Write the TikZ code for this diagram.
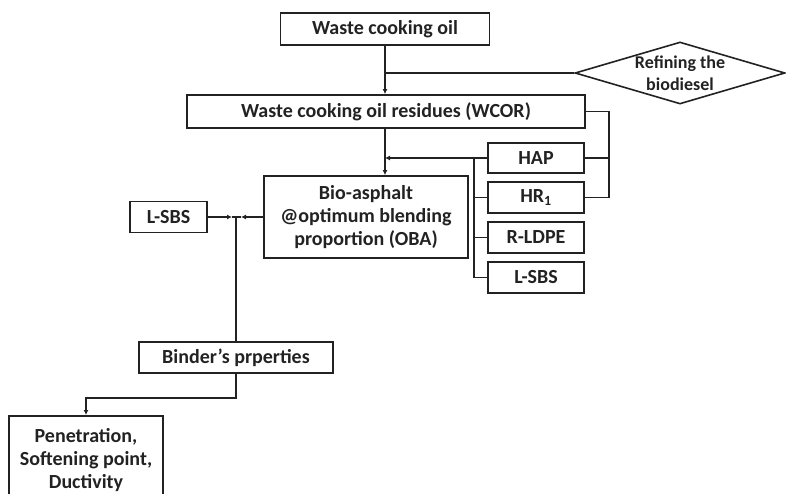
\documentclass[tikz,border=0pt]{standalone}
\usepackage{fontspec}
\setmainfont{Carlito}
\usepackage{tikz}
\usetikzlibrary{arrows.meta, positioning, calc, shapes.geometric}

\definecolor{inkgray}{RGB}{34, 34, 34}

\tikzset{
    flowbox/.style={draw=inkgray, line width=1.8pt, rectangle, inner sep=0pt,
        font=\fontsize{20}{23}\selectfont\bfseries, text=inkgray, align=center},
    decide/.style={draw=inkgray, line width=1.6pt, diamond, aspect=3.4, inner sep=-4pt,
        minimum width=210, minimum height=62,
        font=\fontsize{18}{22}\selectfont\bfseries, text=inkgray, align=center},
    link/.style={draw=inkgray, line width=1.8pt},
    tip/.style={link, -{Latex[length=5pt,width=5pt]}}
}

\begin{document}
\begin{tikzpicture}[x=1pt, y=-1pt]
    \clip (0,0) rectangle (786,494);
    % boxes
    \node[flowbox, minimum width=209, minimum height=32] (wco) at (385,29) {Waste cooking oil};
    \node[flowbox, minimum width=398, minimum height=33] (wcor) at (386,111.5) {Waste cooking oil residues (WCOR)};
    \node[decide] (refine) at (680,73) {Refining the\\biodiesel};
    \node[flowbox, minimum width=204, minimum height=82] (oba) at (366,217) {Bio-asphalt\\@optimum blending\\proportion (OBA)};
    \node[flowbox, minimum width=96, minimum height=30] (hap) at (536,158) {HAP};
    \node[flowbox, minimum width=96, minimum height=31] (hr) at (536,197.5) {HR$_{\mathbf{1}}$};
    \node[flowbox, minimum width=96, minimum height=31] (ldpe) at (536,237.5) {R-LDPE};
    \node[flowbox, minimum width=96, minimum height=31] (lsbsr) at (536,277.5) {L-SBS};
    \node[flowbox, minimum width=77, minimum height=31] (lsbsl) at (168.5,217) {L-SBS};
    \node[flowbox, minimum width=194, minimum height=31] (binder) at (236,357.5) {Binder's prperties};
    \node[flowbox, anchor=north, minimum width=154, minimum height=88] (test) at (86,415) {Penetration,\\Softening point,\\Ductivity};

    % junctions
    \coordinate (split) at (wco.south |- refine.west);
    \coordinate (bus) at ($(hap.west)+(-13,0)$);
    \coordinate (rbus) at ($(wcor.east)+(23,0)$);
    \coordinate (merge) at (binder.north |- lsbsl.east);
    \coordinate (mergeL) at ($(merge)+(-4,0)$);
    \coordinate (mergeR) at ($(merge)+(5,0)$);

    % connectors
    \draw[tip] (wco.south) -- (wco.south |- wcor.north);
    \draw[link] (split) -- (refine.west);
    \draw[tip] (wco.south |- wcor.south) -- (wco.south |- oba.north);
    \draw[tip] (hap.west) -- (wco.south |- hap.west);
    \draw[link] (bus) -- (bus |- lsbsr.west);
    \foreach \n in {hr, ldpe, lsbsr}
        \draw[link] (\n.west) -- (\n.west -| bus);
    \draw[link] (wcor.east) -- (rbus) |- (hr.east);
    \draw[link] (hap.east) -- (hap.east -| rbus);
    \draw[tip] (lsbsl.east) -- (mergeL);
    \draw[tip] (oba.west) -- (mergeR);
    \draw[link] (mergeL) -- (mergeR);
    \draw[link] (merge) -- (binder.north);
    \draw[tip] (binder.south) -- ++(0,24) -| (test.north);
\end{tikzpicture}
\end{document}
